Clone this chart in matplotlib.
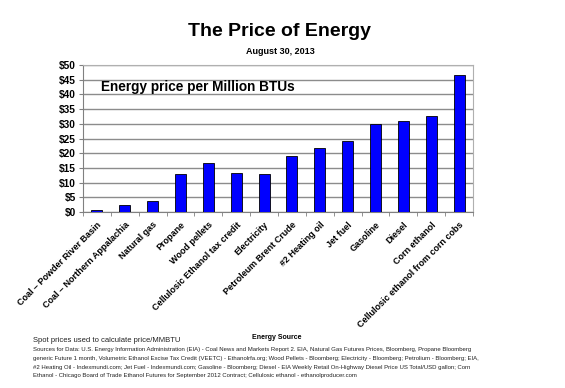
import matplotlib
matplotlib.use('Agg')
import matplotlib.pyplot as plt
import numpy as np

plt.rcParams['font.family'] = ['Liberation Sans', 'DejaVu Sans']

sources = ['Coal \u2013 Powder River Basin', 'Coal \u2013 Northern Appalachia', 'Natural gas',
           'Propane', 'Wood pellets', 'Cellulosic Ethanol tax credit', 'Electricity',
           'Petroleum Brent Crude', '#2 Heating oil', 'Jet fuel', 'Gasoline', 'Diesel',
           'Corn ethanol', 'Cellulosic ethanol from corn cobs']
prices = [0.6, 2.5, 3.6, 12.8, 16.8, 13.3, 13.0, 19.2, 21.6, 24.1, 30.0, 30.9, 32.8, 46.7]
yticks = [0, 5, 10, 15, 20, 25, 30, 35, 40, 45, 50]

notes = ("Sources for Data: U.S. Energy Information Administration (EIA) - Coal News and Markets Report 2. EIA, Natural Gas Futures Prices, Bloomberg, Propane Bloomberg\n"
         "generic Future 1 month, Volumetric Ethanol Excise Tax Credit (VEETC) - Ethanolrfa.org; Wood Pellets - Bloomberg; Electricity - Bloomberg; Petrolium - Bloomberg; EIA,\n"
         "#2 Heating Oil - Indexmundi.com; Jet Fuel - Indexmundi.com; Gasoline - Bloomberg; Diesel - EIA Weekly Retail On-Highway Diesel Price US Total/USD gallon; Corn\n"
         "Ethanol - Chicago Board of Trade Ethanol Futures for September 2012 Contract; Cellulosic ethanol - ethanolproducer.com")

W, H = 565, 388
fig = plt.figure(figsize=(W / 100, H / 100), dpi=100)
ax = fig.add_axes([83 / W, 1 - 212 / H, 390 / W, 147 / H])

x = np.arange(len(sources))
ax.bar(x, prices, width=0.39, color='#0000ff', edgecolor='black', linewidth=0.6, zorder=3)

ax.set_xlim(-0.5, len(sources) - 0.5)
ax.set_ylim(0, 50)
ax.set_yticks(yticks)
ax.set_yticklabels(['$%d' % v for v in yticks], fontsize=7.3, fontweight='bold')
ax.set_xticks(x)
ax.set_xticklabels(sources, rotation=45, ha='right', rotation_mode='anchor',
                   fontsize=6.5, fontweight='bold')
ax.set_xticks(np.arange(len(sources) + 1) - 0.5, minor=True)
ax.tick_params(axis='x', which='major', length=0, pad=6)
ax.tick_params(axis='x', which='minor', length=3, color='#808080')
ax.tick_params(axis='y', length=3, color='#808080', pad=2)
ax.grid(axis='y', color='#8c8c8c', linewidth=1.0, zorder=0)
for s in ax.spines.values():
    s.set_color('#b0b0b0')
ax.spines['left'].set_color('#808080')
ax.spines['bottom'].set_color('#808080')

ax.text(0.045, 0.85, 'Energy price per Million BTUs', transform=ax.transAxes,
        fontsize=9.8, fontweight='bold', va='center')

fig.text(280 / W, 1 - 32 / H, 'The Price of Energy', fontsize=14, fontweight='bold',
         ha='center', va='center')
fig.text(280 / W, 1 - 52 / H, 'August 30, 2013', fontsize=6.5, fontweight='bold',
         ha='center', va='center')
fig.text(277 / W, 1 - 337.5 / H, 'Energy Source', fontsize=5, fontweight='bold',
         ha='center', va='center')
fig.text(33 / W, 1 - 341 / H, 'Spot prices used to calculate price/MMBTU', fontsize=5.5,
         va='center', color='#222222')
fig.text(33 / W, 1 - 347 / H, notes, fontsize=4.3, va='top', linespacing=1.95,
         color='#222222')

fig.savefig('out.png', dpi=100)
